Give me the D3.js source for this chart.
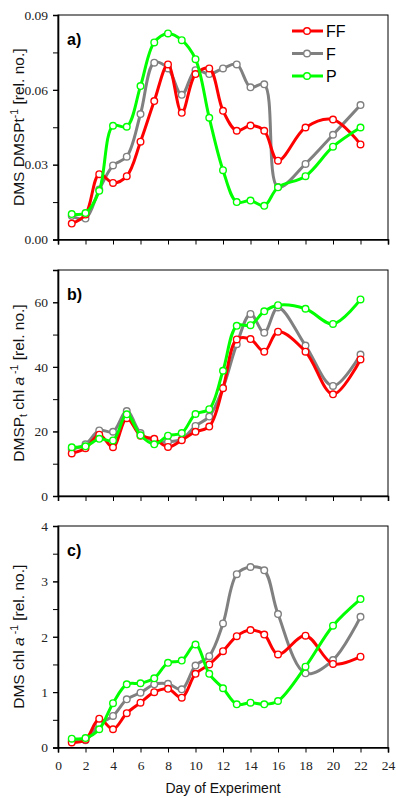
<!DOCTYPE html>
<html>
<head>
<meta charset="utf-8">
<script src="https://cdn.jsdelivr.net/npm/d3@7"></script>
<style>
  body { margin: 0; background: #fff; }
  .tick text { font-family: "Liberation Serif", serif; font-size: 13.5px; fill: #222; }
  .title { font-family: "Liberation Sans", Arial, sans-serif; font-size: 15.5px; fill: #111; }
</style>
</head>
<body>
<svg id="chart" width="396" height="798"></svg>
<script>
const svg = d3.select("#chart");

// sampling days (no sample on 17, 19, 21)
const days = [1, 2, 3, 4, 5, 6, 7, 8, 9, 10, 11, 12, 13, 14, 15, 16, 18, 20, 22];
const treatments = ["FF", "F", "P"];

// a) DMS : DMSPt
const dmsDmspFF = [0.0064, 0.010, 0.0262, 0.0227, 0.0254, 0.0392, 0.0555, 0.0702, 0.0508, 0.0663, 0.0686, 0.0516, 0.0436, 0.0457, 0.0436, 0.0316, 0.0449, 0.0481, 0.0381];
const dmsDmspF  = [0.0095, 0.0084, 0.020, 0.0297, 0.0332, 0.0503, 0.0709, 0.0686, 0.0580, 0.0679, 0.0663, 0.0686, 0.0702, 0.0610, 0.0622, 0.021, 0.0303, 0.0420, 0.0539];
const dmsDmspP  = [0.0102, 0.0106, 0.0195, 0.0456, 0.0452, 0.0615, 0.0790, 0.0826, 0.0799, 0.0723, 0.0488, 0.0278, 0.0150, 0.0156, 0.0135, 0.0209, 0.0254, 0.0372, 0.0449];

// b) DMSPt : chl a
const dmspChlFF = [13.2, 14.8, 19.0, 15.1, 24.1, 18.7, 17.7, 15.2, 17.3, 19.9, 21.5, 33.4, 48.5, 48.6, 44.7, 50.9, 44.7, 31.5, 42.3];
const dmspChlF  = [14.5, 16.0, 20.3, 19.9, 26.3, 19.5, 17.0, 16.8, 17.6, 21.7, 24.6, 33.5, 47.0, 56.4, 50.6, 58.4, 46.6, 34.1, 43.8];
const dmspChlP  = [15.1, 15.4, 17.7, 17.2, 25.3, 18.8, 16.0, 18.7, 19.5, 25.4, 26.9, 38.8, 52.7, 52.9, 57.2, 59.1, 58.0, 53.3, 60.9];

// c) DMS : chl a
const dmsChlFF = [0.09, 0.14, 0.52, 0.33, 0.62, 0.81, 1.00, 1.06, 0.90, 1.33, 1.50, 1.74, 2.01, 2.12, 2.04, 1.68, 2.02, 1.51, 1.64];
const dmsChlF  = [0.12, 0.13, 0.42, 0.57, 0.87, 0.99, 1.14, 1.15, 1.05, 1.48, 1.65, 2.24, 3.13, 3.26, 3.20, 2.41, 1.34, 1.58, 2.36];
const dmsChlP  = [0.16, 0.17, 0.33, 0.80, 1.14, 1.16, 1.25, 1.53, 1.57, 1.86, 1.33, 1.07, 0.78, 0.81, 0.78, 0.84, 1.46, 2.20, 2.68];

const xTicks = d3.range(0, 25, 2);
const colors = { FF: "#ff0000", F: "#808080", P: "#00ff00" };

const left = 58, right = 388;
const x = d3.scaleLinear().domain([0, 24]).range([left, right]);

const panels = [
  { label: "a)", top: 15, bottom: 239.5, max: 0.09, major: [0, 0.03, 0.06, 0.09], minor: d3.range(0, 0.0901, 0.015),
    fmt: d3.format(".2f"), series: { FF: dmsDmspFF, F: dmsDmspF, P: dmsDmspP }, title: "a", showX: false },
  { label: "b)", top: 270, bottom: 496, max: 70, major: [0, 20, 40, 60], minor: d3.range(0, 71, 10),
    fmt: d3.format("d"), series: { FF: dmspChlFF, F: dmspChlF, P: dmspChlP }, title: "b", showX: false },
  { label: "c)", top: 526, bottom: 747.5, max: 4, major: [0, 1, 2, 3, 4], minor: d3.range(0, 4.01, 0.5),
    fmt: d3.format("d"), series: { FF: dmsChlFF, F: dmsChlF, P: dmsChlP }, title: "c", showX: true }
];

const line = d3.line().curve(d3.curveCatmullRom.alpha(0.5));

panels.forEach(p => {
  const y = d3.scaleLinear().domain([0, p.max]).range([p.bottom, p.top]);
  const g = svg.append("g");

  // frame
  g.append("rect")
    .attr("x", left).attr("y", p.top)
    .attr("width", right - left).attr("height", p.bottom - p.top)
    .attr("fill", "none").attr("stroke", "#000").attr("stroke-width", 1);

  // y axis: minor then labelled major
  g.append("g").attr("transform", `translate(${left},0)`)
    .call(d3.axisLeft(y).tickValues(p.minor).tickSize(5).tickFormat(""))
    .call(a => a.select(".domain").remove());
  g.append("g").attr("class", "yaxis").attr("transform", `translate(${left},0)`)
    .call(d3.axisLeft(y).tickValues(p.major).tickSize(5).tickFormat(p.fmt).tickPadding(5))
    .call(a => a.select(".domain").attr("stroke-width", 1.6));

  // x axis
  const xa = g.append("g").attr("transform", `translate(0,${p.bottom})`)
    .call(d3.axisBottom(x).tickValues(xTicks).tickSize(5).tickPadding(8)
      .tickFormat(p.showX ? d3.format("d") : ""));
  xa.select(".domain").attr("stroke-width", 1.6);

  // series: gray under red under green
  ["F", "FF", "P"].forEach(k => {
    const pts = days.map((d, i) => [x(d), y(p.series[k][i])]);
    g.append("path")
      .attr("d", line(pts))
      .attr("fill", "none")
      .attr("stroke", colors[k])
      .attr("stroke-width", 3);
    g.selectAll(null).data(pts).join("circle")
      .attr("cx", d => d[0]).attr("cy", d => d[1]).attr("r", 3.3)
      .attr("fill", "#fff").attr("stroke", colors[k]).attr("stroke-width", 1.4);
  });

  // panel letter
  g.append("text")
    .attr("x", 67).attr("y", p.top + 30)
    .attr("font-family", "Liberation Sans, Arial, sans-serif")
    .attr("font-weight", "bold").attr("font-size", 16)
    .text(p.label);

  // y title
  const t = g.append("text").attr("class", "title")
    .attr("text-anchor", "middle")
    .attr("transform", `translate(24,${(p.top + p.bottom) / 2}) rotate(-90)`);
  if (p.title === "a") {
    t.append("tspan").text("DMS DMSPt");
    t.append("tspan").attr("dy", -6).attr("font-size", 10.5).text("-1");
    t.append("tspan").attr("dy", 6).text(" [rel. no.]");
  } else if (p.title === "b") {
    t.append("tspan").text("DMSP");
    t.append("tspan").attr("dy", 3).attr("font-size", 10.5).text("t");
    t.append("tspan").attr("dy", -3).text(" chl ");
    t.append("tspan").attr("font-style", "italic").text("a");
    t.append("tspan").attr("dy", -6).attr("font-size", 10.5).text(" -1");
    t.append("tspan").attr("dy", 6).text(" [rel. no.]");
  } else {
    t.append("tspan").text("DMS chl ");
    t.append("tspan").attr("font-style", "italic").text("a");
    t.append("tspan").attr("dy", -6).attr("font-size", 10.5).text(" -1");
    t.append("tspan").attr("dy", 6).text(" [rel. no.]");
  }
});

// x title
svg.append("text").attr("class", "title")
  .attr("x", (left + right) / 2).attr("y", 793)
  .attr("text-anchor", "middle")
  .style("font-size", "14px")
  .text("Day of Experiment");

// legend in panel a
const legend = svg.append("g");
treatments.forEach((k, i) => {
  const cy = 31 + i * 22.5;
  legend.append("line")
    .attr("x1", 292).attr("x2", 323).attr("y1", cy).attr("y2", cy)
    .attr("stroke", colors[k]).attr("stroke-width", 3);
  legend.append("circle")
    .attr("cx", 307).attr("cy", cy).attr("r", 3.3)
    .attr("fill", "#fff").attr("stroke", colors[k]).attr("stroke-width", 1.4);
  legend.append("text")
    .attr("x", 326).attr("y", cy + 6)
    .attr("font-family", "Liberation Sans, Arial, sans-serif")
    .attr("font-size", 16)
    .text(k);
});
</script>
</body>
</html>
